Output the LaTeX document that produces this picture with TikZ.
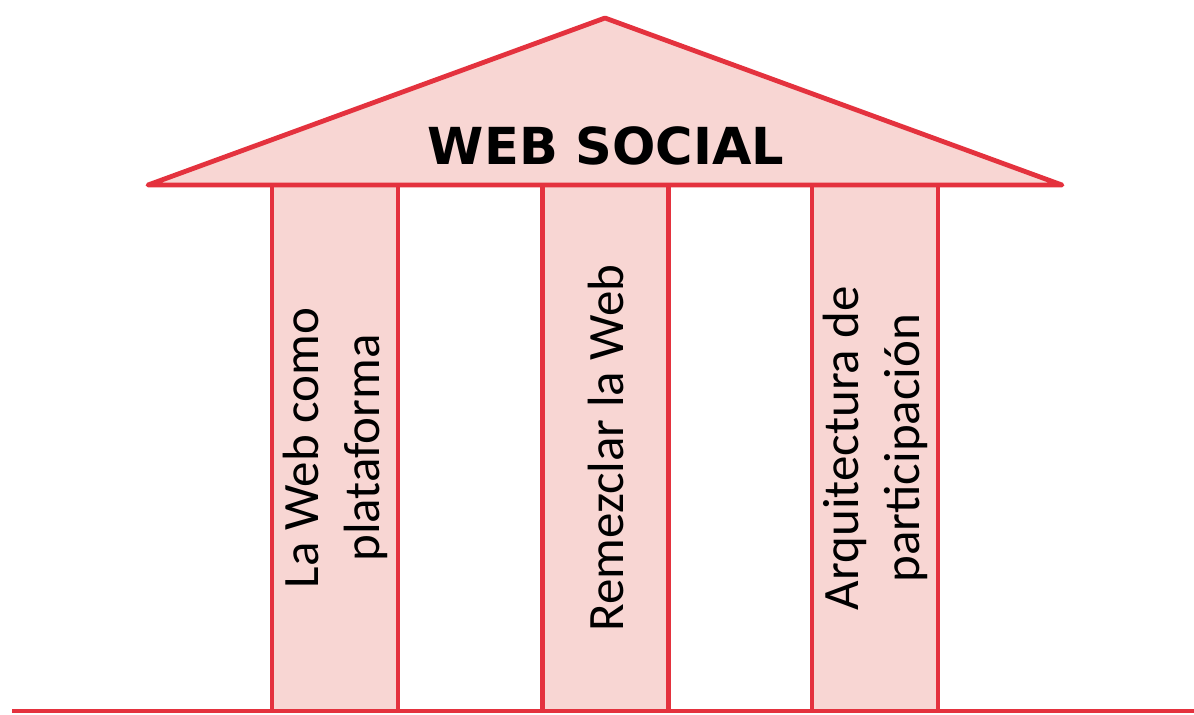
\documentclass[tikz,border=0pt]{standalone}
\usepackage{fontspec}
\setmainfont{Carlito}
\newfontfamily\roofFont{DejaVu Sans}
\usetikzlibrary{positioning}
\definecolor{templeRed}{HTML}{E4323E}
\definecolor{templePink}{HTML}{F8D6D3}

\begin{document}
\begin{tikzpicture}[x=0.5pt, y=-0.5pt]
\useasboundingbox (0,0) rectangle (1194,714);

\begin{scope}[every node/.style={shape=rectangle,
    draw=templeRed, fill=templePink, line width=2.4pt,
    rotate=90, align=center, inner sep=0pt,
    minimum width=263pt, minimum height=63pt,
    font=\fontsize{25.5}{30.5}\selectfont}]
    \node (p1) at (335,448) {La Web como\\plataforma};
    \node (p2) at (605.5,448) {Remezclar la Web};
    \node (p3) at (875,448) {Arquitectura de\\participación};
\end{scope}

\begin{scope}[every path/.style={draw=templeRed, line width=2.4pt, line join=round}]
    \coordinate (eaveL) at (148,185);
    \coordinate (apex) at (605,18);
    \coordinate (eaveR) at (1062,185);
    \filldraw[fill=templePink] (eaveL) -- (apex) -- (eaveR) -- cycle;
    \coordinate (floorL) at (12,711);
    \coordinate (floorR) at (1194,711);
    \draw (floorL) -- (floorR);
\end{scope}

\node[font=\roofFont\bfseries\fontsize{25.5}{30}\selectfont] (title) at (606,146) {WEB SOCIAL};
\end{tikzpicture}
\end{document}
